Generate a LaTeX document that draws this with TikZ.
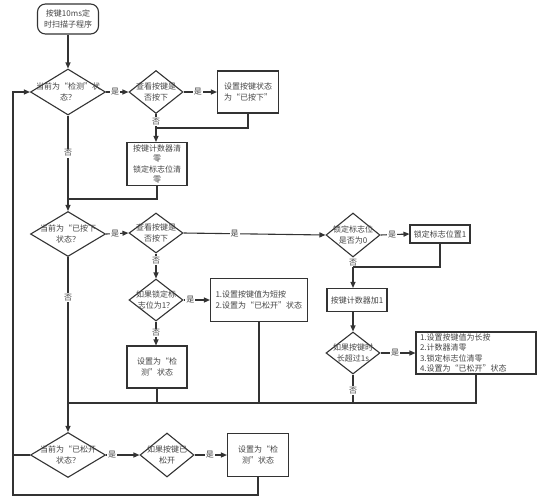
\documentclass[tikz,border=0pt]{standalone}
\usepackage{fontspec}
\setmainfont{Noto Sans CJK SC}
\usetikzlibrary{shapes.geometric,arrows.meta}
\definecolor{lc}{HTML}{333333}
\definecolor{tc}{HTML}{444444}
\newcommand{\fs}{\fontsize{8}{10.5}\selectfont}
\tikzset{
  ln/.style={draw=lc, line width=1.1pt},
  arr/.style={ln, -{Triangle[length=6pt,width=5pt]}},
  boxn/.style={draw=lc, line width=1.1pt, rectangle, inner sep=0pt, align=center, text=tc, font=\fs},
  decn/.style={draw=lc, line width=1.1pt, diamond, inner sep=0pt},
  dtext/.style={text=tc, font=\fs, align=center, inner sep=0pt},
  yn/.style={fill=white, text=tc, font=\fs, inner sep=1pt},
}
\begin{document}
\begin{tikzpicture}[x=1pt,y=-1pt]
\useasboundingbox (0,0) rectangle (543,499);
% start
\node[boxn, rounded corners=8pt, minimum width=61pt, minimum height=30pt] (st) at (68,19) {按键10ms定\\时扫描子程序};
% row 1
\node[decn, minimum width=75pt, minimum height=46pt, label={[dtext]center:{当前为“检测”状\\态？}}] (d1) at (68,92) {};
\node[decn, minimum width=54pt, minimum height=43pt, label={[dtext]center:{查看按键是\\否按下}}] (d2) at (156,92) {};
\node[boxn, minimum width=61pt, minimum height=42pt] (b1) at (248,92) {设置按键状态\\为“已按下”};
\node[boxn, minimum width=60pt, minimum height=43pt] (b2) at (157,164) {按键计数器清\\零\\锁定标志位清\\零};
\coordinate (j1) at (156,128);
\coordinate (j2) at (68,199);
% row 2
\node[decn, minimum width=75pt, minimum height=45pt, label={[dtext]center:{当前为“已按下\\状态？}}] (d3) at (68,234) {};
\node[decn, minimum width=54pt, minimum height=40pt, label={[dtext]center:{查看按键是\\否按下}}] (d4) at (156,233) {};
\node[decn, minimum width=54pt, minimum height=44pt, label={[dtext]center:{锁定标志位\\是否为0}}] (d5) at (353,235) {};
\node[boxn, minimum width=60pt, minimum height=18pt] (b3) at (440,234) {锁定标志位置1};
\coordinate (j3) at (353,267);
\node[boxn, minimum width=60pt, minimum height=23pt] (b4) at (357,300) {按键计数器加1};
\node[decn, minimum width=54pt, minimum height=42pt, label={[dtext]center:{如果按键时\\长超过1s}}] (d6) at (353,353) {};
\node[boxn, minimum width=120pt, minimum height=42pt, align=left, text width=112pt] (b5) at (476,353) {1.设置按键值为长按\\2.计数器清零\\3.锁定标志位清零\\4.设置为“已松开”状态};
\node[decn, minimum width=54pt, minimum height=42pt, label={[dtext]center:{如果锁定标\\志位为1？}}] (d7) at (156,300) {};
\node[boxn, minimum width=97pt, minimum height=43pt, align=left, text width=87pt] (b6) at (259,300) {1.设置按键值为短按\\2.设置为“已松开”状态};
\node[boxn, minimum width=60pt, minimum height=42pt] (b7) at (157,367) {设置为“检\\测”状态};
\coordinate (j4) at (68,403);
% row 3
\node[decn, minimum width=75pt, minimum height=45pt, label={[dtext]center:{当前为“已松开\\状态？}}] (d8) at (68,455) {};
\node[decn, minimum width=54pt, minimum height=44pt, label={[dtext]center:{如果按键已\\松开}}] (d9) at (167,455) {};
\node[boxn, minimum width=61pt, minimum height=43pt] (b8) at (258,455) {设置为“检\\测”状态};
\coordinate (lp1) at (13,495);
\coordinate (lp2) at (13,92);
% connectors
\draw[arr] (st.south) -- (d1.north);
\draw[arr] (d1.east) -- node[yn, pos=0.4]{是} (d2.west);
\draw[arr] (d2.east) -- node[yn, pos=0.43]{是} (b1.west);
\draw[arr] (d2.south) -- node[yn, pos=0.28]{否} (d2.south |- b2.north);
\draw[ln] (b1.south) |- (j1);
\draw[ln] (d1.south) -- node[yn, pos=0.45]{否} (j2);
\draw[ln] (b2.south) |- (j2);
\draw[arr] (j2) -- (d3.north);
\draw[arr] (d3.east) -- node[yn, pos=0.4]{是} (d4.west);
\draw[arr] (d4.east) -- node[yn, pos=0.36]{是} (d5.west);
\draw[arr] (d5.east) -- node[yn, pos=0.4]{是} (b3.west);
\draw[arr] (d5.south) -- node[yn, pos=0.16]{否} (d5.south |- b4.north);
\draw[ln] (b3.south) |- (j3);
\draw[arr] (b4.south -| d6.north) -- (d6.north);
\draw[arr] (d6.east) -- node[yn, pos=0.42]{是} (b5.west);
\draw[ln] (d6.south) -- node[yn, pos=0.55]{否} (d6.south |- j4);
\draw[ln] (b5.south) |- (j4);
\draw[arr] (d4.south) -- node[yn, pos=0.27]{否} (d7.north);
\draw[arr] (d7.east) -- node[yn, pos=0.26]{是} (b6.west);
\draw[arr] (d7.south) -- node[yn, pos=0.48]{否} (d7.south |- b7.north);
\draw[ln] (b6.south) |- (j4);
\draw[ln] (b7.south) |- (j4);
\draw[ln] (d3.south) -- node[yn, pos=0.28]{否} (j4);
\draw[arr] (j4) -- (d8.north);
\draw[arr] (d8.east) -- node[yn, pos=0.18]{是} (d9.west);
\draw[arr] (d9.east) -- node[yn, pos=0.47]{是} (b8.west);
\draw[arr] (b8.south) |- (lp1) -- (lp2) -- (d1.west);
\draw[ln] (d8.west) -- (d8.west -| lp1);
\end{tikzpicture}
\end{document}
